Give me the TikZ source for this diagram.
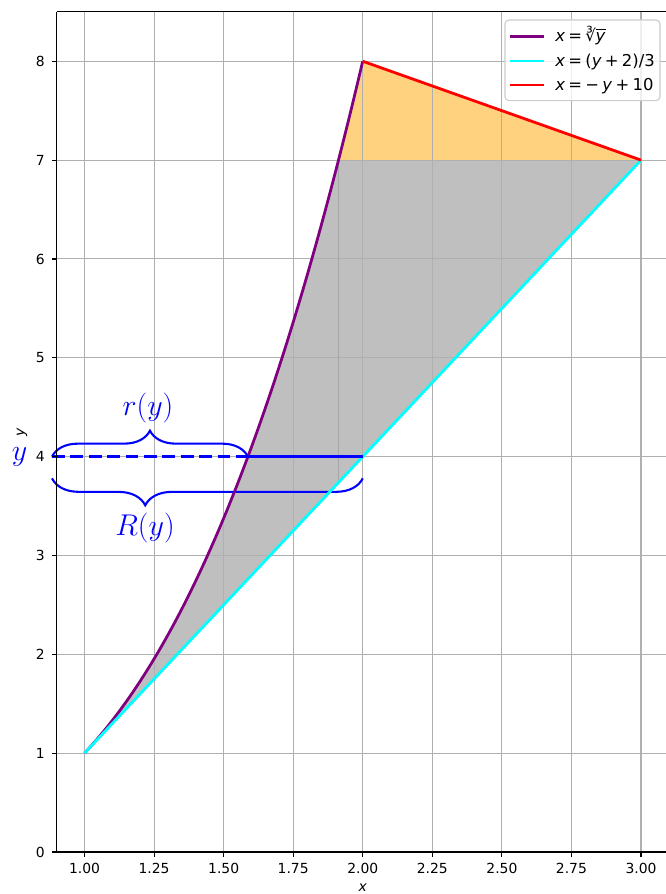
\RequirePackage{fix-cm}
\documentclass[tikz,border=0pt]{standalone}
\usepackage{fontspec}
\setmainfont{DejaVu Sans}
\usetikzlibrary{decorations.pathreplacing}
\definecolor{gridc}{HTML}{B0B0B0}
\definecolor{greyfill}{HTML}{BFBFBF}
\definecolor{orangefill}{HTML}{FFD27F}
\definecolor{cpurple}{HTML}{800080}
\definecolor{ccyan}{HTML}{00FFFF}
\definecolor{cred}{HTML}{FF0000}
\definecolor{cblue}{HTML}{0000FF}
\definecolor{legedge}{HTML}{CCCCCC}
\definecolor{seam}{HTML}{A6A6A6}
\newcommand{\legsp}{\hspace{0.2em}}
\begin{document}
\begin{tikzpicture}[x=200.34pt, y=71.165pt,
  gridline/.style={draw=gridc, line width=0.75pt},
  spine/.style={draw=black, line width=0.8pt},
  tickmark/.style={draw=black, line width=0.8pt},
  ticklab/.style={font=\fontsize{10}{12}\selectfont, inner sep=0pt},
  curve/.style={line width=2pt},
  bluebrace/.style={draw=cblue, line width=1.5pt, decorate},
  bluelab/.style={text=cblue, font=\fontsize{21.6}{26}\selectfont, inner sep=0pt, anchor=base},
  legtext/.style={font=\fontsize{11.8}{14}\selectfont, inner sep=0pt, anchor=base west},
]
\useasboundingbox (0.6963,-0.4249) rectangle (3.0898,8.6200);
\clip (0.6963,-0.4249) rectangle (3.0898,8.6200);

% fills
\fill[greyfill] plot[domain=1:7, samples=120, variable=\t] ({pow(\t,1/3)},\t) -- (3,7) -- cycle;
\fill[orangefill] plot[domain=7:8, samples=40, variable=\t] ({pow(\t,1/3)},\t) -- (3,7) -- cycle;

% grid
\foreach \gx in {1,1.25,1.5,1.75,2,2.25,2.5,2.75,3}
  \draw[gridline] (\gx,0) -- (\gx,8.5);
\foreach \gy in {1,...,8}
  \draw[gridline] (0.9,\gy) -- (3.1,\gy);
\draw[seam, line width=0.8pt] ({pow(7,1/3)},{3*pow(7,1/3)-2}) -- ({pow(7,1/3)},7);

% braces
\coordinate (ystart) at (0.8832,4);
\coordinate (ymid) at ({pow(4,1/3)},4);
\coordinate (yend) at (2,4);
\coordinate (bstart) at (0.8832,3.78);
\coordinate (bend) at (2,3.78);
\draw[bluebrace, decoration={brace, amplitude=18.7pt}] (ystart) -- (ymid);
\draw[bluebrace, decoration={brace, mirror, amplitude=19.4pt, aspect=0.3}] (bstart) -- (bend);

% curves
\draw[curve, cpurple] plot[domain=1:8, samples=150, variable=\t] ({pow(\t,1/3)},\t);
\coordinate (c1) at (1,1);
\coordinate (c2) at (3,7);
\coordinate (c3) at (2,8);
\draw[curve, ccyan] (c1) -- (c2);
\draw[curve, cred] (c3) -- (c2);

% y = 4 line
\draw[cblue, line width=2.5pt, dash pattern=on 9.25pt off 4pt] (ystart) -- (ymid);
\draw[cblue, line width=2.5pt] (ymid) -- (yend);

% blue labels
\node[bluelab] (rlab) at (1.2282,4.42) {$r(y)$};
\node[bluelab] (Rlab) at (1.2174,3.20) {$R(y)$};
\node[bluelab] (ylab) at (0.7664,3.961) {$y$};

% spines
\draw[spine] (0.9,8.5) -- (0.9,0) -- (3.1,0);
\draw[spine] (0.9,8.5) -- (3.1,8.5);

% ticks
\foreach \gx/\lab in {1/1.00,1.25/1.25,1.5/1.50,1.75/1.75,2/2.00,2.25/2.25,2.5/2.50,2.75/2.75,3/3.00}{
  \draw[tickmark] (\gx,0) -- ++(0,-3.5pt);
  \node[ticklab, anchor=north] (xt\lab) at (\gx,-0.1113) {\lab};
}
\foreach \gy in {0,...,8}{
  \draw[tickmark] (0.9,\gy) -- ++(-3.5pt,0);
  \node[ticklab, anchor=east] (yt\gy) at (0.858,\gy) {\gy};
}
\node[font=\fontsize{10}{12}\selectfont\itshape, inner sep=0pt, anchor=base] (xaxlab) at (2,-0.395) {x};
\node[font=\fontsize{10}{12}\selectfont\itshape, inner sep=0pt, rotate=90] (yaxlab) at (0.7754,4.25) {y};

% legend
\draw[legedge, line width=0.8pt, fill=white, fill opacity=0.8, rounded corners=2.8pt] (2.5112,7.6022) rectangle (3.0683,8.4176);
\draw[curve, cpurple] (2.5292,8.2487) -- (2.6514,8.2487);
\draw[curve, ccyan] (2.5292,8.0028) -- (2.6514,8.0028);
\draw[curve, cred] (2.5292,7.7600) -- (2.6514,7.7600);
\node[legtext, yshift=-3.6pt] (leg1) at (2.6909,8.2487) {\textit{x}\legsp=\legsp ∛\kern-0.02em\rlap{\rule[0.74em]{0.62em}{0.06em}}\textit{y}};
\node[legtext, yshift=-4.2pt] (leg2) at (2.6909,8.0028) {\textit{x}\legsp=\legsp(\textit{y}\legsp+\legsp2)/3};
\node[legtext, yshift=-4.2pt] (leg3) at (2.6909,7.7600) {\textit{x}\legsp=\legsp−\legsp\textit{y}\legsp+\legsp10};
\end{tikzpicture}
\end{document}
